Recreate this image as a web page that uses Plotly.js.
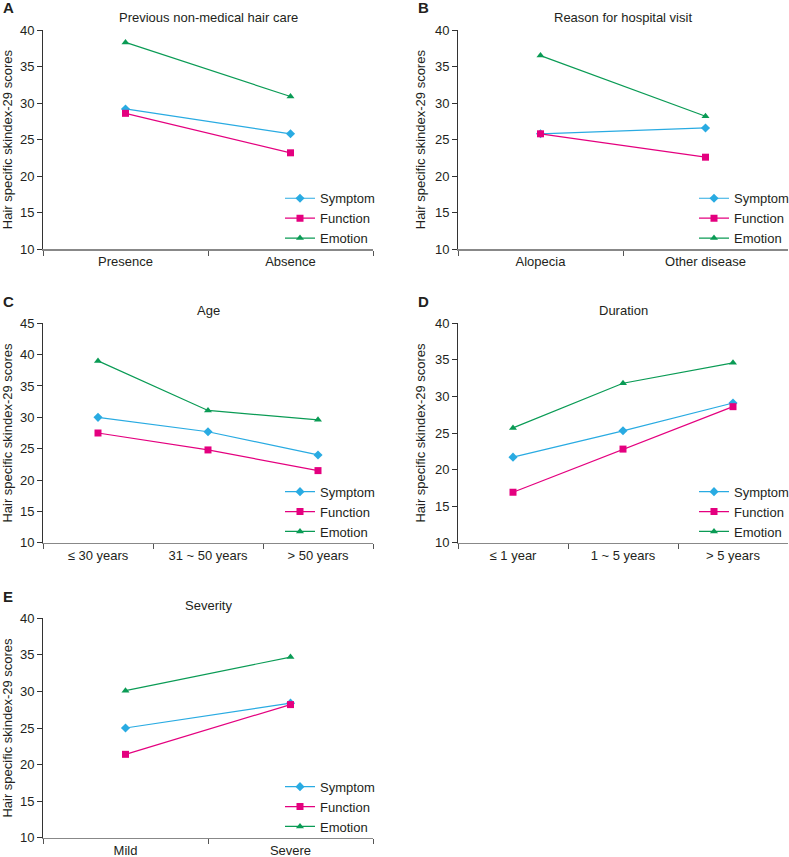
<!DOCTYPE html>
<html>
<head>
<meta charset="utf-8">
<script src="https://cdn.plot.ly/plotly-3.0.1.min.js"></script>
<style>html,body{margin:0;padding:0;background:#fff;}#chart{width:789px;height:857px;}</style>
</head>
<body>
<div id="chart"></div>
<script>
// ---- Data ----
const seriesNames = ["Symptom", "Function", "Emotion"];

const catsA = ["Presence", "Absence"];
const symptomA = [29.2, 25.8];
const functionA = [28.6, 23.2];
const emotionA = [38.3, 30.9];

const catsB = ["Alopecia", "Other disease"];
const symptomB = [25.8, 26.6];
const functionB = [25.8, 22.6];
const emotionB = [36.5, 28.2];

const catsC = ["≤ 30 years", "31 ~ 50 years", "> 50 years"];
const symptomC = [30.0, 27.7, 24.0];
const functionC = [27.5, 24.8, 21.5];
const emotionC = [39.0, 31.1, 29.6];

const catsD = ["≤ 1 year", "1 ~ 5 years", "> 5 years"];
const symptomD = [21.7, 25.3, 29.1];
const functionD = [16.9, 22.8, 28.6];
const emotionD = [25.7, 31.8, 34.6];

const catsE = ["Mild", "Severe"];
const symptomE = [25.0, 28.4];
const functionE = [21.4, 28.2];
const emotionE = [30.1, 34.7];

const panelTitles = ["Previous non-medical hair care", "Reason for hospital visit", "Age", "Duration", "Severity"];
const panelLetters = ["A", "B", "C", "D", "E"];
const yRanges = [[10, 40], [10, 40], [10, 45], [10, 40], [10, 40]];
const yTitle = "Hair specific skindex-29 scores";

// ---- Styling ----
const W = 789, H = 857;
const FONT = "Liberation Sans, Arial, Helvetica, sans-serif";
const TXT = "#231f20";
const colors = ["#29abe2", "#e4007f", "#0a9b55"];
const symbols = ["diamond", "square", "triangle-up"];

// panel pixel boxes: [left, right, top, bottom]
const boxes = [
  [43, 373, 30, 249.3],
  [458, 788, 30, 249.3],
  [43, 373, 323.3, 542.7],
  [458, 788, 323.3, 542.7],
  [43, 373, 618.3, 837.7]
];

const panels = [
  {cats: catsA, vals: [symptomA, functionA, emotionA]},
  {cats: catsB, vals: [symptomB, functionB, emotionB]},
  {cats: catsC, vals: [symptomC, functionC, emotionC]},
  {cats: catsD, vals: [symptomD, functionD, emotionD]},
  {cats: catsE, vals: [symptomE, functionE, emotionE]}
];

const data = [];
const layout = {
  width: W, height: H,
  margin: {l: 0, r: 0, t: 0, b: 0, autoexpand: false},
  paper_bgcolor: "#fff", plot_bgcolor: "#fff",
  font: {family: FONT, size: 13, color: TXT},
  showlegend: true,
  annotations: []
};

panels.forEach((p, i) => {
  const n = i + 1;
  const xa = n === 1 ? "x" : "x" + n;
  const ya = n === 1 ? "y" : "y" + n;
  const lg = n === 1 ? "legend" : "legend" + n;
  const [l, r, t, b] = boxes[i];
  p.vals.forEach((v, s) => {
    data.push({
      type: "scatter", mode: "lines+markers",
      x: p.cats, y: v, name: seriesNames[s],
      xaxis: xa, yaxis: ya, legend: lg,
      line: {color: colors[s], width: 1.2},
      marker: {color: colors[s], symbol: symbols[s], size: 7},
      cliponaxis: false
    });
  });
  layout[(n === 1 ? "xaxis" : "xaxis" + n)] = {
    domain: [l / W, r / W], anchor: ya,
    type: "category", range: [-0.5, p.cats.length - 0.5],
    tickson: "boundaries", ticks: "outside", ticklen: 5, tickcolor: "#555",
    showline: true, linecolor: "#888", linewidth: 1.3,
    showgrid: false, zeroline: false, fixedrange: true,
    tickfont: {size: 13, color: TXT}
  };
  layout[(n === 1 ? "yaxis" : "yaxis" + n)] = {
    domain: [1 - b / H, 1 - t / H], anchor: xa,
    range: yRanges[i], dtick: 5, ticks: "outside", ticklen: 5, tickcolor: "#333",
    showline: true, linecolor: "#333", linewidth: 1,
    showgrid: false, zeroline: false, fixedrange: true,
    tickfont: {size: 13, color: TXT},
    title: {text: yTitle, font: {size: 13, color: TXT}, standoff: 6}
  };
  const legX = (i % 2 === 0) ? (r - 93) : (r - 94);
  layout[lg] = {
    x: legX / W, y: 1 - (b + 4) / H, xanchor: "left", yanchor: "bottom",
    bgcolor: "rgba(0,0,0,0)", font: {size: 13, color: TXT},
    tracegroupgap: 0, itemwidth: 30
  };
  layout.annotations.push({
    xref: "paper", yref: "paper", x: ((l + r) / 2) / W, y: 1 - (t - 13) / H,
    text: panelTitles[i], showarrow: false, xanchor: "center", yanchor: "middle",
    font: {size: 13, color: TXT}
  });
  layout.annotations.push({
    xref: "paper", yref: "paper", x: (i % 2 === 0 ? 1 : 416) / W, y: 1 - (t - 22) / H,
    text: "<b>" + panelLetters[i] + "</b>", showarrow: false, xanchor: "left", yanchor: "middle",
    font: {size: 15, color: TXT}
  });
});

Plotly.newPlot("chart", data, layout, {displayModeBar: false, staticPlot: true});
</script>
</body>
</html>
